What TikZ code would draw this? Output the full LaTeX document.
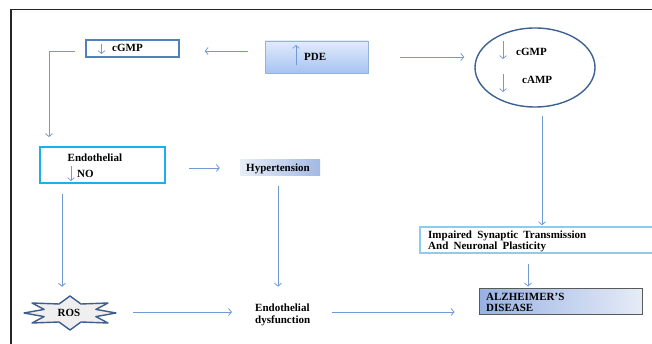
\documentclass[tikz,border=0pt]{standalone}
\usepackage{fontspec}
\setmainfont{Liberation Serif}
\usetikzlibrary{arrows.meta,shapes.geometric,shadows}
\definecolor{conncol}{HTML}{7199D2}
\definecolor{cgmpcol}{HTML}{4F81BD}
\definecolor{pdetop}{HTML}{E2EBFB}
\definecolor{pdebot}{HTML}{A6C3F2}
\definecolor{pdeborder}{HTML}{95B3D7}
\definecolor{ellcol}{HTML}{3D6190}
\definecolor{endocol}{HTML}{1AB0EC}
\definecolor{hypleft}{HTML}{E8EEF8}
\definecolor{hypright}{HTML}{A3B9E4}
\definecolor{starfill}{HTML}{EFEFEF}
\definecolor{starcol}{HTML}{3D5F8E}
\definecolor{impcol}{HTML}{8ECBED}
\definecolor{adleft}{HTML}{98B1E3}
\definecolor{adright}{HTML}{E6ECF7}
\definecolor{adborder}{HTML}{595959}
\tikzset{
  conn/.style={draw=conncol, line width=0.8pt, -{Straight Barb[length=3pt,width=7pt]}},
  box/.style={rectangle, inner sep=0pt},
  lbl/.style={inner sep=0pt, anchor=base west, font=\fontsize{11}{13}\selectfont\bfseries},
  tinyarrow/.style={draw=conncol, line width=0.7pt, -{Straight Barb[length=3pt,width=7pt]}}
}
\begin{document}
\begin{tikzpicture}[x=1pt,y=-1pt]
\clip (0,0) rectangle (652,344);
\fill[white] (0,0) rectangle (652,344);
% frame
\draw[line width=1.5pt, draw=black!85] (11,360) -- (11,9.5) -- (670,9.5);

% nodes
\node[box, draw=cgmpcol, line width=1.3pt, minimum width=93pt, minimum height=17pt] (cgmp) at (132.5,48.5) {};
\node[box, draw=pdeborder, line width=0.8pt, top color=pdetop, bottom color=pdebot, minimum width=103pt, minimum height=32pt, drop shadow={opacity=0.25, shadow xshift=1pt, shadow yshift=-1pt}] (pde) at (316.5,57) {};
\node[ellipse, draw=ellcol, line width=1.4pt, minimum width=120pt, minimum height=79pt, inner sep=0pt] (ell) at (535,67.5) {};
\node[box, draw=endocol, line width=1.8pt, minimum width=125pt, minimum height=36pt] (endo) at (102.5,165) {};
\node[box, left color=hypleft, right color=hypright, minimum width=80pt, minimum height=16pt] (hyp) at (280,168) {};
\node[box, draw=impcol, line width=1.5pt, minimum width=240pt, minimum height=26pt] (imp) at (540,240) {};
\node[box, draw=adborder, line width=1pt, left color=adleft, right color=adright, minimum width=163pt, minimum height=26pt] (ad) at (560.5,301) {};
% ROS star
\draw[starcol, line width=1.4pt, fill=starfill, line join=round]
  (116,313) -- (95.9,316.6) -- (108,323) -- (81,322) -- (70,330) -- (59,322) -- (32,323) -- (44.1,316.6)
  -- (24,313) -- (44.1,309.4) -- (32,303) -- (59,304) -- (70,296) -- (81,304) -- (108,303) -- (95.9,309.4) -- cycle;
\node[inner sep=0pt, minimum width=92pt, minimum height=34pt] (ros) at (70,313) {};

% texts
\node[lbl] (tcgmp) at (112,52) {cGMP};
\node[lbl] (tpde) at (304,61) {PDE};
\node[lbl] (tcgmp2) at (516,56) {cGMP};
\node[lbl] (tcamp) at (522,84) {cAMP};
\node[lbl] (tendo) at (67.5,161.5) {Endothelial};
\node[lbl] (tno) at (77,178) {NO};
\node[lbl] (thyp) at (246,171.5) {Hypertension};
\node[lbl] (tros) at (57.5,316.5) {ROS};
\node[lbl] (dys) at (255,311.5) {Endothelial};
\node[lbl] (dys2) at (255,323.5) {dysfunction};
\node[lbl] (timp) at (428,238.5) {Impaired\hspace{2.5pt} Synaptic\hspace{2.5pt} Transmission};
\node[lbl] (timp2) at (428,249.5) {And\hspace{2.5pt} Neuronal\hspace{2.5pt} Plasticity};
\node[lbl] (tad) at (486,300.5) {ALZHEIMER'S};
\node[lbl] (tad2) at (486,311) {DISEASE};

% small arrows inside nodes
\draw[tinyarrow] ([xshift=-31pt,yshift=4.5pt]cgmp.center) -- ([xshift=-31pt,yshift=-5.5pt]cgmp.center);
\draw[tinyarrow] ([xshift=-20.5pt,yshift=-8pt]pde.center) -- ([xshift=-20.5pt,yshift=12pt]pde.center);
\draw[tinyarrow] ([xshift=-32pt,yshift=26.5pt]ell.center) -- ([xshift=-32pt,yshift=8.5pt]ell.center);
\draw[tinyarrow] ([xshift=-32pt,yshift=-6.5pt]ell.center) -- ([xshift=-32pt,yshift=-24.5pt]ell.center);
\draw[tinyarrow] ([xshift=-31.5pt,yshift=-1pt]endo.center) -- ([xshift=-31.5pt,yshift=-16pt]endo.center);

% connectors
\draw[conn, shorten <=17pt, shorten >=25pt] ([yshift=6pt]pde.west) -- ([yshift=6pt]pde.west -| cgmp.east);
\draw[conn, shorten <=32pt, shorten >=10pt] (pde.east) -- (pde.east -| ell.west);
\draw[conn, shorten <=8pt, shorten >=1pt] ([xshift=7pt]ell.south) -- ([xshift=7pt]ell.south |- imp.north);
\draw[conn, shorten >=9pt] ([xshift=-10pt,yshift=-2.5pt]cgmp.west) -| ([xshift=-53.5pt]endo.north);
\draw[conn, shorten <=23pt, shorten >=20pt] ([yshift=-3pt]endo.east) -- ([yshift=-3pt]endo.east -| hyp.west);
\draw[conn, shorten <=10pt, shorten >=9pt] ([xshift=-40.5pt]endo.south) -- ([xshift=-40.5pt]endo.south |- ros.north);
\draw[conn, shorten <=10pt, shorten >=17pt] ([xshift=-2pt]hyp.south) -- ([xshift=-2pt]hyp.south |- dys.north);
\draw[conn, shorten <=17pt, shorten >=23pt] ([yshift=1pt]ros.east) -- ([yshift=1pt]ros.east -| dys.west);
\draw[conn, shorten <=22pt, shorten >=24pt] ([yshift=1pt]ros.east -| dys.east) -- ([yshift=1pt]ros.east -| ad.west);
\draw[conn, shorten <=10pt, shorten >=1pt] ([xshift=-12pt]imp.south) -- ([xshift=-12pt]imp.south |- ad.north);
\end{tikzpicture}
\end{document}
